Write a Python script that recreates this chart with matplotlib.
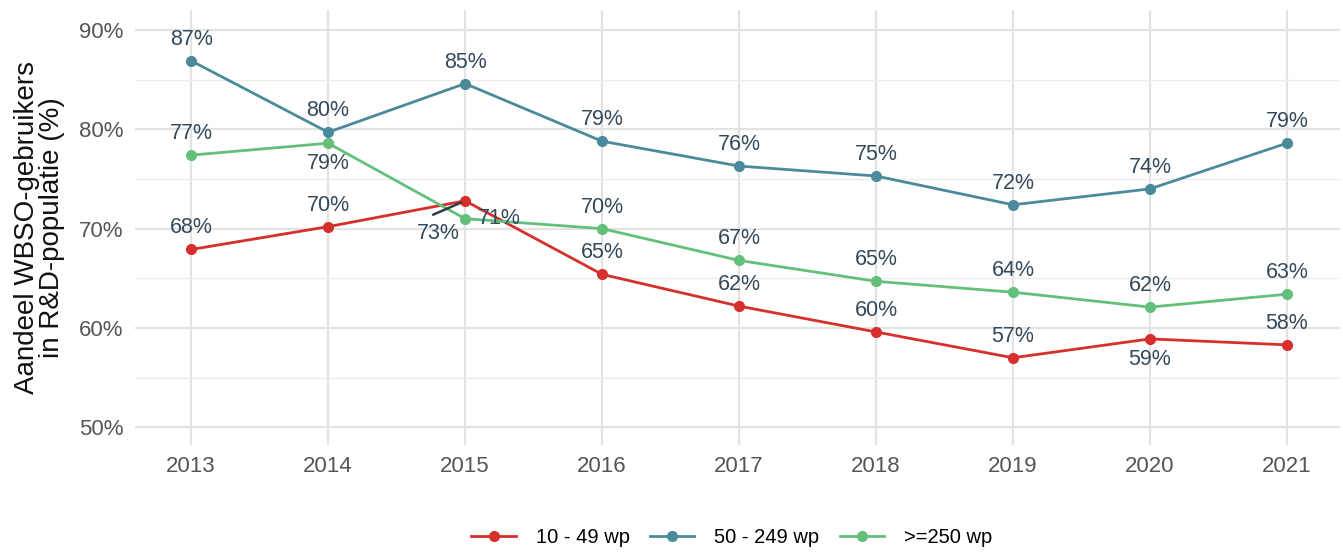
import matplotlib
matplotlib.use('Agg')
import matplotlib.pyplot as plt
from matplotlib.ticker import MultipleLocator, FuncFormatter

plt.rcParams['font.family'] = ['Liberation Sans', 'DejaVu Sans']

years = [2013, 2014, 2015, 2016, 2017, 2018, 2019, 2020, 2021]
small = [67.9, 70.2, 72.8, 65.4, 62.2, 59.6, 57.0, 58.9, 58.3]
medium = [86.9, 79.7, 84.6, 78.8, 76.3, 75.3, 72.4, 74.0, 78.6]
large = [77.4, 78.6, 71.0, 70.0, 66.8, 64.7, 63.6, 62.1, 63.4]

series_names = ['10 - 49 wp', '50 - 249 wp', '>=250 wp']
colors = ['#d62f2c', '#4b8a9a', '#63c07b']
# label placement per point: 'a' above, 'b' below, 'r' right, 'x' pulled out with a line
small_pos = ['a', 'a', 'x', 'a', 'a', 'a', 'a', 'b', 'a']
medium_pos = ['a'] * 9
large_pos = ['a', 'b', 'r', 'a', 'a', 'a', 'a', 'a', 'a']

label_color = '#34495a'
fs = 15.5

fig = plt.figure(figsize=(13.43, 5.6), dpi=100)
ax = fig.add_axes([0.1005, 0.205, 0.8975, 0.777])

for vals, pos, name, c in zip([small, medium, large],
                              [small_pos, medium_pos, large_pos],
                              series_names, colors):
    ax.plot(years, vals, color=c, lw=2, marker='o', ms=7, label=name, zorder=3)
    for x, v, p in zip(years, vals, pos):
        txt = '%d%%' % round(v)
        if p == 'a':
            ax.annotate(txt, (x, v), xytext=(0, 15.5), textcoords='offset points',
                        ha='center', va='center', fontsize=fs, color=label_color)
        elif p == 'b':
            ax.annotate(txt, (x, v), xytext=(0, -14.5), textcoords='offset points',
                        ha='center', va='center', fontsize=fs, color=label_color)
        elif p == 'r':
            ax.annotate(txt, (x, v), xytext=(9, 0), textcoords='offset points',
                        ha='left', va='center', fontsize=fs, color=label_color)
        else:
            # repelled label with a connecting segment
            ax.annotate('', (x, v), xytext=(-23, -10), textcoords='offset points',
                        arrowprops=dict(arrowstyle='-', color='#2b3f47', lw=1.8,
                                        shrinkA=0, shrinkB=3), zorder=4)
            ax.annotate(txt, (x, v), xytext=(-19, -23.5), textcoords='offset points',
                        ha='center', va='center', fontsize=fs, color=label_color)

ax.set_xlim(2012.59, 2021.39)
ax.set_ylim(48.2, 92.0)
ax.set_xticks(years)
ax.yaxis.set_major_locator(MultipleLocator(10))
ax.yaxis.set_minor_locator(MultipleLocator(5))
ax.yaxis.set_major_formatter(FuncFormatter(lambda v, p: '%d%%' % v))
ax.grid(True, which='major', color='#e3e3e3', lw=1.6)
ax.grid(True, which='minor', axis='y', color='#ececec', lw=1.0)
ax.set_axisbelow(True)
for s in ax.spines.values():
    s.set_visible(False)
ax.tick_params(which='both', length=0, labelsize=16, labelcolor='#555555', pad=8)
ax.set_ylabel('Aandeel WBSO-gebruikers\nin R&D-populatie (%)', fontsize=20,
              color='#111111', labelpad=10, linespacing=0.95)

fig.legend(loc='lower center', bbox_to_anchor=(0.545, -0.01), ncol=3, frameon=False,
           fontsize=14.5, handlelength=2.2, columnspacing=1.0, handletextpad=1.0)

fig.savefig('out.png', dpi=100)
plt.close()
